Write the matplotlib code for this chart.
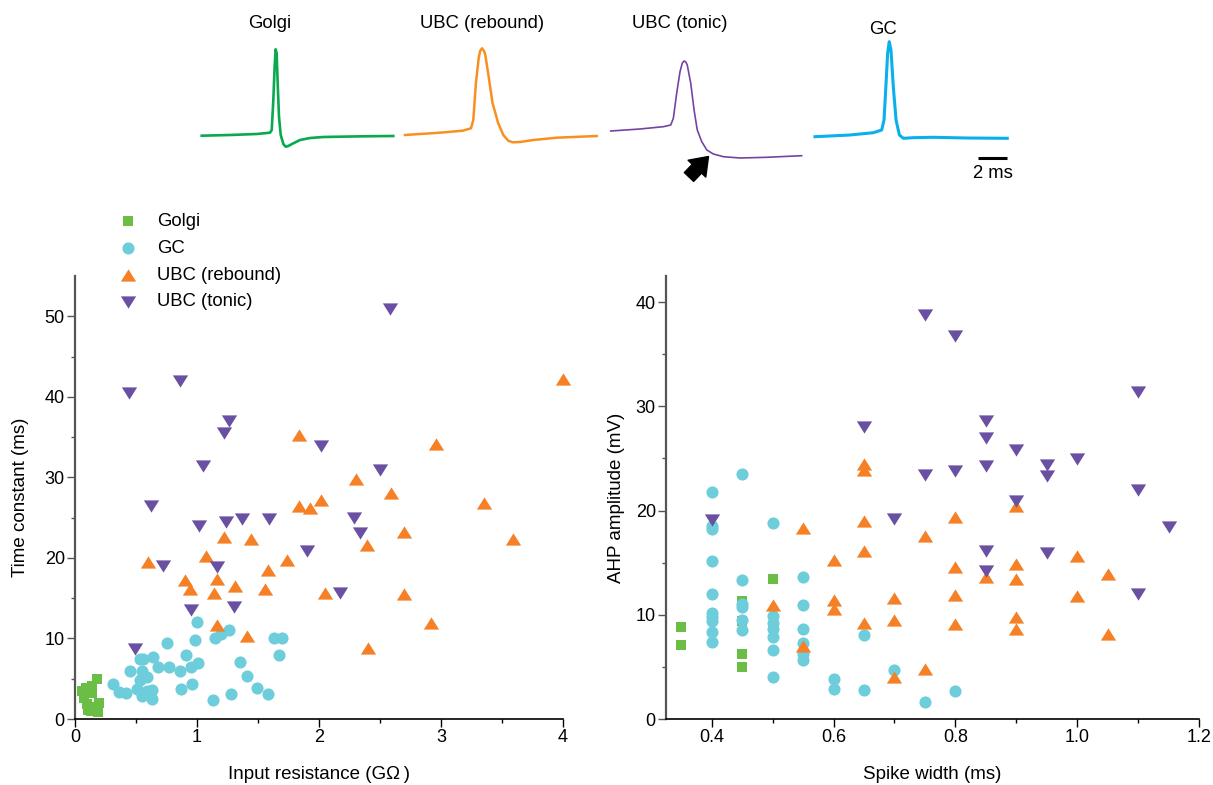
import matplotlib
matplotlib.use("Agg")
import matplotlib.pyplot as plt
from matplotlib.ticker import MultipleLocator, FixedLocator

plt.rcParams["font.family"] = ["Liberation Sans", "DejaVu Sans"]

# ---- example spike traces (ms, mV) ----
golgi_t = [0, 1.95, 3.79, 4.71, 4.83, 4.94, 5.03, 5.10, 5.17, 5.24, 5.33, 5.45,
           5.63, 5.79, 5.97, 6.32, 6.78, 7.47, 8.39, 9.54, 11.14, 13.21]
golgi_v = [-60.7, -60, -59, -57.7, -55, -25, 8.3, 25.7, 21.7, -8.3, -41.7, -60,
           -69, -71.7, -71, -68.3, -65, -63, -62, -61.7, -61.3, -61]

rebound_t = [0, 2.41, 3.98, 4.55, 4.71, 4.89, 5.08, 5.18, 5.31, 5.45, 5.54, 5.77,
             6.04, 6.43, 6.78, 7.12, 7.43, 7.93, 8.85, 10.46, 13.22]
rebound_v = [-60, -57.7, -55.7, -53.3, -45, -8.3, 16.7, 24, 26.7, 24, 20, -1.7,
             -28.3, -48.3, -60, -65.7, -67.3, -67, -65, -62.7, -61]

tonic_t = [0, 2.02, 3.63, 4.14, 4.32, 4.55, 4.78, 4.94, 5.06, 5.18, 5.28, 5.52,
           5.75, 5.97, 6.28, 6.63, 7.08, 7.77, 8.92, 10.76, 13.17]
tonic_v = [-56, -54, -51.7, -50, -43.3, -18.3, 3.3, 12, 14, 13, 10, -8.3,
           -35, -55, -66.7, -75, -79, -81.7, -83, -82.3, -80.7]

gc_t = [0, 2.41, 4.02, 4.6, 4.76, 4.9, 5.01, 5.12, 5.24, 5.4, 5.59, 5.82,
        6.09, 6.78, 8.16, 10.46, 13.26]
gc_v = [-61.7, -60, -57.7, -55, -45, -8.3, 21.7, 33.3, 25, -11.7, -45, -60,
        -63.3, -62.7, -62.3, -63, -63.3]

trace_names = ["Golgi", "UBC (rebound)", "UBC (tonic)", "GC"]

# ---- input resistance (GOhm) vs time constant (ms) ----
golgi_rin = [0.18, 0.14, 0.06, 0.09, 0.14, 0.07, 0.10, 0.11, 0.16, 0.20, 0.19, 0.13]
golgi_tau = [5.0, 4.1, 3.5, 3.8, 3.2, 2.6, 1.9, 1.1, 1.5, 2.0, 0.9, 1.0]

gc_rin = [0.31, 0.36, 0.42, 0.45, 0.53, 0.56, 0.55, 0.53, 0.51, 0.55, 0.59, 0.63,
          0.63, 0.59, 0.64, 0.68, 0.75, 0.77, 0.86, 0.87, 0.91, 0.95, 0.96, 0.98,
          1.00, 1.01, 1.13, 1.15, 1.20, 1.26, 1.28, 1.35, 1.41, 1.49, 1.58, 1.63,
          1.70, 1.67]
gc_tau = [4.4, 3.4, 3.2, 6.0, 7.4, 7.4, 6.0, 4.8, 3.7, 2.9, 3.5, 3.6,
          2.5, 5.2, 7.7, 6.5, 9.4, 6.4, 6.0, 3.7, 8.0, 6.4, 4.4, 9.8,
          12.0, 6.9, 2.4, 10.1, 10.6, 11.0, 3.1, 7.1, 5.3, 3.9, 3.1, 10.0,
          10.0, 8.0]

reb_rin = [0.60, 0.90, 0.94, 1.07, 1.22, 1.44, 1.16, 1.14, 1.31, 1.16, 1.41, 1.56,
           1.58, 1.74, 2.05, 1.84, 1.93, 2.02, 1.84, 2.30, 2.59, 2.96, 3.35, 2.70,
           2.39, 3.59, 2.70, 2.92, 2.40, 4.00]
reb_tau = [19.5, 17.2, 16.1, 20.2, 22.6, 22.4, 17.4, 15.6, 16.5, 11.7, 10.3, 16.2,
           18.5, 19.7, 15.7, 26.5, 26.2, 27.2, 35.2, 29.8, 28.0, 34.1, 26.8, 23.2,
           21.6, 22.3, 15.5, 11.9, 8.85, 42.2]

ton_rin = [0.44, 0.86, 1.26, 1.22, 1.05, 0.62, 2.58, 2.02, 2.50, 1.02, 1.24, 1.37,
           1.59, 0.72, 1.16, 0.95, 1.30, 1.90, 2.29, 2.34, 2.17, 0.49]
ton_tau = [40.5, 42.0, 37.0, 35.5, 31.4, 26.5, 50.9, 33.9, 30.9, 23.9, 24.5, 24.8,
           24.8, 19.0, 18.9, 13.5, 13.9, 20.9, 24.9, 23.1, 15.7, 8.7]

# ---- spike width (ms) vs AHP amplitude (mV) ----
golgi_sw = [0.35, 0.35, 0.45, 0.45, 0.45, 0.45, 0.50]
golgi_ahp = [8.8, 7.1, 11.3, 9.4, 6.2, 5.0, 13.4]

gc_sw = [0.4] * 10 + [0.45] * 6 + [0.5] * 7 + [0.55] * 6 + [0.6] * 2 + [0.65] * 2 + [0.7, 0.75, 0.8]
gc_ahp = [21.8, 18.5, 18.2, 15.2, 12.0, 10.2, 9.8, 9.4, 8.3, 7.4,
          23.5, 13.3, 11.0, 10.7, 9.5, 8.5,
          18.8, 9.85, 9.2, 8.6, 7.9, 6.6, 4.0,
          13.6, 10.9, 8.6, 7.3, 6.2, 5.7,
          3.85, 2.9,
          8.1, 2.8,
          4.7, 1.6, 2.65]

reb_sw = [0.5, 0.55, 0.55, 0.6, 0.6, 0.6, 0.65, 0.65, 0.65, 0.65, 0.65,
          0.7, 0.7, 0.7, 0.75, 0.75, 0.8, 0.8, 0.8, 0.8, 0.85,
          0.9, 0.9, 0.9, 0.9, 0.9, 1.0, 1.0, 1.05, 1.05]
reb_ahp = [10.9, 18.3, 7.0, 15.3, 11.45, 10.55, 24.5, 23.9, 19.0, 16.1, 9.2,
           11.6, 9.5, 4.0, 17.6, 4.8, 19.4, 14.6, 11.9, 9.15, 13.6,
           20.4, 14.9, 13.4, 9.8, 8.6, 15.6, 11.8, 13.9, 8.2]

ton_sw = [0.4, 0.65, 0.7, 0.75, 0.75, 0.8, 0.8, 0.85, 0.85, 0.85, 0.85, 0.85,
          0.9, 0.9, 0.95, 0.95, 0.95, 1.0, 1.1, 1.1, 1.1, 1.15]
ton_ahp = [19.1, 28.0, 19.2, 38.8, 23.45, 36.7, 23.8, 28.6, 27.0, 24.3, 16.1, 14.2,
           25.8, 20.9, 24.4, 23.35, 15.9, 24.95, 31.4, 22.0, 12.0, 18.4]

# ---- styling ----
C_GOLGI, C_GC, C_REB, C_TON = "#6abd45", "#6dcdda", "#f58025", "#6a50a2"
TR_COLORS = ["#0aa84f", "#f7901e", "#7444a0", "#0ab0ec"]
TR_WIDTHS = [1.9, 1.8, 1.2, 2.2]
TRI_UP = [(-1, -0.8), (1, -0.8), (0, 0.8)]
TRI_DN = [(-1, 0.8), (1, 0.8), (0, -0.8)]

W, H = 1213, 785
PX_PER_MS = 14.5


def px_rect(x0, y0, x1, y1):
    return [x0 / W, 1 - y1 / H, (x1 - x0) / W, (y1 - y0) / H]


fig = plt.figure(figsize=(W / 100, H / 100), dpi=100)

# traces panel: 1 px per mV, 14.5 px per ms
tax = fig.add_axes(px_rect(0, 20, W, 190))
tax.set_xlim(0, W / PX_PER_MS)
tax.set_ylim(-115, 55)
tax.axis("off")
starts_px = [201.7, 405, 610.7, 815]
for (t, v), x0, c, lw in zip([(golgi_t, golgi_v), (rebound_t, rebound_v),
                              (tonic_t, tonic_v), (gc_t, gc_v)],
                             starts_px, TR_COLORS, TR_WIDTHS):
    off = x0 / PX_PER_MS
    tax.plot([ti + off for ti in t], v, color=c, lw=lw, solid_joinstyle="round")

label_pos = [(270, 24), (482, 24), (680, 24), (883, 30)]
for name, (x, y) in zip(trace_names, label_pos):
    fig.text(x / W, 1 - y / H, name, ha="center", va="center", fontsize=13.3)

# scale bar 2 ms
sb_x0 = 977.7 / PX_PER_MS
tax.plot([sb_x0, sb_x0 + 2], [-82.7, -82.7], color="black", lw=2.2, solid_capstyle="butt")
fig.text(992.5 / W, 1 - 173 / H, "2 ms", ha="center", va="center", fontsize=13.3)

# arrow pointing to the AHP of the tonic UBC
tax.annotate("", xy=(708.5 / PX_PER_MS, -81.5), xytext=(689 / PX_PER_MS, -102),
             arrowprops=dict(arrowstyle="simple,head_length=0.55,head_width=0.8,tail_width=0.42",
                             color="black", mutation_scale=22, shrinkA=0, shrinkB=0))


def style_axes(ax):
    for s in ["top", "right"]:
        ax.spines[s].set_visible(False)
    ax.spines["left"].set_color("#555555")
    ax.spines["left"].set_linewidth(1.6)
    ax.spines["bottom"].set_color("black")
    ax.spines["bottom"].set_linewidth(1.2)
    ax.tick_params(which="major", length=5.8, width=1.0, labelsize=13, pad=1.5)
    ax.tick_params(which="minor", length=2.9, width=1.0)
    ax.tick_params(axis="y", which="both", color="#555555")


def scatter_groups(ax, groups):
    for xs, ys, color, marker, size, label in groups:
        ax.scatter(xs, ys, s=size, c=color, marker=marker, linewidths=0,
                   label=label, clip_on=False)


# left: input resistance vs time constant
ax1 = fig.add_axes(px_rect(75, 276, 563, 719))
scatter_groups(ax1, [
    (golgi_rin, golgi_tau, C_GOLGI, "s", 56, "Golgi"),
    (gc_rin, gc_tau, C_GC, "o", 76, "GC"),
    (reb_rin, reb_tau, C_REB, TRI_UP, 121, "UBC (rebound)"),
    (ton_rin, ton_tau, C_TON, TRI_DN, 121, "UBC (tonic)"),
])
ax1.set_xlim(0, 4)
ax1.set_ylim(0, 55)
ax1.xaxis.set_major_locator(MultipleLocator(1))
ax1.xaxis.set_minor_locator(MultipleLocator(0.5))
ax1.yaxis.set_major_locator(FixedLocator([0, 10, 20, 30, 40, 50]))
ax1.yaxis.set_minor_locator(FixedLocator([5, 15, 25, 35, 45]))
ax1.set_xlabel("Input resistance (G\u03a9\u2009)", fontsize=13.5, labelpad=14)
ax1.set_ylabel("Time constant (ms)", fontsize=13.5, labelpad=11)
style_axes(ax1)

leg = fig.legend(*ax1.get_legend_handles_labels(), loc="upper left",
                 bbox_to_anchor=(118.75 / W, 1 - 213 / H), frameon=False,
                 fontsize=13.3, handlelength=1.0, handletextpad=1.07,
                 labelspacing=0.53, borderpad=0, borderaxespad=0, scatterpoints=1)

# right: spike width vs AHP amplitude
ax2 = fig.add_axes(px_rect(666, 276, 1199, 719))
scatter_groups(ax2, [
    (golgi_sw, golgi_ahp, C_GOLGI, "s", 56, "Golgi"),
    (gc_sw, gc_ahp, C_GC, "o", 76, "GC"),
    (reb_sw, reb_ahp, C_REB, TRI_UP, 121, "UBC (rebound)"),
    (ton_sw, ton_ahp, C_TON, TRI_DN, 121, "UBC (tonic)"),
])
ax2.set_xlim(0.325, 1.2)
ax2.set_ylim(0, 42.5)
ax2.xaxis.set_major_locator(FixedLocator([0.4, 0.6, 0.8, 1.0, 1.2]))
ax2.xaxis.set_minor_locator(FixedLocator([0.5, 0.7, 0.9, 1.1]))
ax2.set_xticklabels(["0.4", "0.6", "0.8", "1.0", "1.2"])
ax2.yaxis.set_major_locator(FixedLocator([0, 10, 20, 30, 40]))
ax2.yaxis.set_minor_locator(FixedLocator([5, 15, 25, 35]))
ax2.set_xlabel("Spike width (ms)", fontsize=13.5, labelpad=14)
ax2.set_ylabel("AHP amplitude (mV)", fontsize=13.5, labelpad=8)
style_axes(ax2)

fig.savefig("out.png", dpi=100)
